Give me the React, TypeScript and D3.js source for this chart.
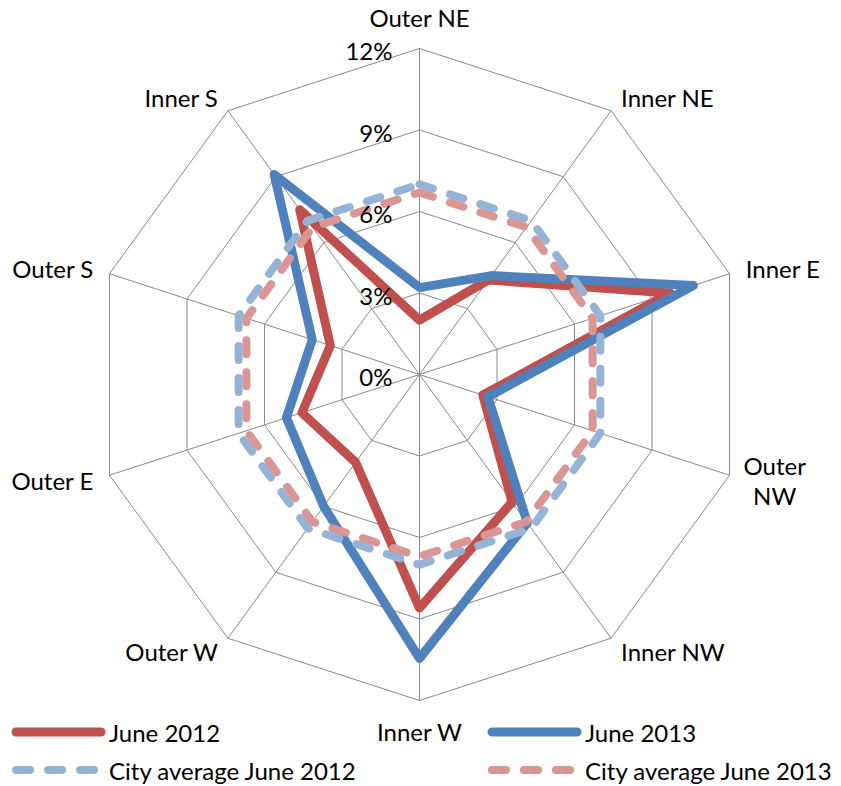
import React, { useEffect } from "react";
import * as d3 from "d3";

const categories = ["Outer NE", "Inner NE", "Inner E", "Outer NW", "Inner NW", "Inner W", "Outer W", "Outer E", "Outer S", "Inner S"];
const june2012 = [2.0, 4.3, 9.7, 2.45, 5.8, 8.6, 4.0, 4.55, 3.45, 7.5];
const june2013 = [3.2, 4.5, 10.6, 2.65, 6.75, 10.45, 6.0, 5.15, 4.15, 9.1];
const cityAvg2012 = [7.0, 7.0, 7.0, 7.0, 7.0, 7.0, 7.0, 7.0, 7.0, 7.0];
const cityAvg2013 = [6.7, 6.7, 6.7, 6.7, 6.7, 6.7, 6.7, 6.7, 6.7, 6.7];
const ticks = [0, 3, 6, 9, 12];
const tickLabels = ["0%", "3%", "6%", "9%", "12%"];
const seriesNames = ["June 2012", "June 2013", "City average June 2012", "City average June 2013"];

const W = 841, H = 786;
const cx = 419.5, cy = 374.5, R = 326;
const FONT = "Lato, 'Open Sans', sans-serif";
const FS = 24;

export default function App() {
  useEffect(() => {
    document.body.style.margin = "0";
  }, []);

  const n = categories.length;
  const angle = d3.scaleLinear().domain([0, n]).range([0, 2 * Math.PI]);
  const r = d3.scaleLinear().domain([0, 12]).range([0, R]);
  const radial = d3
    .lineRadial<number>()
    .angle((_, i) => angle(i))
    .radius((d) => r(d))
    .curve(d3.curveLinearClosed);

  const series = [
    { name: seriesNames[0], values: june2012, color: "#C0504D", dash: null, width: 9 },
    { name: seriesNames[1], values: june2013, color: "#4F81BD", dash: null, width: 9 },
    { name: seriesNames[2], values: cityAvg2012, color: "#95B3D7", dash: "14 18", width: 8 },
    { name: seriesNames[3], values: cityAvg2013, color: "#D99694", dash: "14 18", width: 8 },
  ];

  const wrapped: Record<string, string[]> = { "Outer NW": ["Outer", "NW"] };

  const legendPos = [
    { x: 12, y: 732 },
    { x: 488, y: 732 },
    { x: 12, y: 770 },
    { x: 488, y: 770 },
  ];

  return (
    <svg width={W} height={H} style={{ display: "block", background: "#fff" }} fontFamily={FONT}>
      <g transform={`translate(${cx},${cy})`}>
        {ticks.slice(1).map((t) => (
          <path key={t} d={radial(categories.map(() => t)) || ""} fill="none" stroke="#888" strokeWidth={1} />
        ))}
        {categories.map((c, i) => {
          const a = angle(i);
          return (
            <line key={c} x1={0} y1={0} x2={r(12) * Math.sin(a)} y2={-r(12) * Math.cos(a)} stroke="#888" strokeWidth={1} />
          );
        })}
        {series.map((s) => (
          <path
            key={s.name}
            d={radial(s.values) || ""}
            fill="none"
            stroke={s.color}
            strokeWidth={s.width}
            strokeLinejoin="round"
            strokeLinecap="round"
            strokeDasharray={s.dash || undefined}
          />
        ))}
        {ticks.map((t, i) => (
          <text key={t} x={-27} y={-r(t) + 2} textAnchor="end" dominantBaseline="central" fontSize={FS} fill="#000">
            {tickLabels[i]}
          </text>
        ))}
        {categories.map((c, i) => {
          const a = angle(i);
          const s = Math.sin(a), co = Math.cos(a);
          let x = (R + 17) * s;
          let y = -(R + 17) * co;
          let anchor = "middle";
          if (Math.abs(s) < 0.1) {
            y = -(R + 31) * co;
          } else {
            anchor = s > 0 ? "start" : "end";
          }
          const lines = wrapped[c];
          if (lines) {
            const lx = x + (s > 0 ? 29 : -29);
            return (
              <text key={c} x={lx} y={y} textAnchor="middle" fontSize={FS} fill="#000">
                {lines.map((l, j) => (
                  <tspan key={j} x={lx} y={y + (j - (lines.length - 1) / 2) * 30} dominantBaseline="central">
                    {l}
                  </tspan>
                ))}
              </text>
            );
          }
          return (
            <text key={c} x={x} y={y} textAnchor={anchor} dominantBaseline="central" fontSize={FS} fill="#000">
              {c}
            </text>
          );
        })}
      </g>
      {series.map((s, i) => {
        const p = legendPos[i];
        return (
          <g key={s.name} transform={`translate(${p.x},${p.y})`}>
            <line
              x1={4}
              x2={s.dash ? 88 : 89}
              y1={0}
              y2={0}
              stroke={s.color}
              strokeWidth={s.width}
              strokeLinecap="round"
              strokeDasharray={s.dash ? "14 18" : undefined}
            />
            <text x={97} y={0} dominantBaseline="central" fontSize={FS} fill="#000">
              {s.name}
            </text>
          </g>
        );
      })}
    </svg>
  );
}
